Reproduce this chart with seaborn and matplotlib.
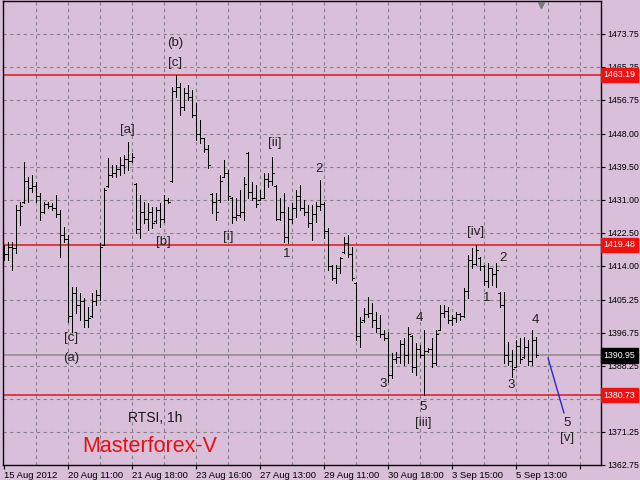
import numpy as np
import pandas as pd
import matplotlib
matplotlib.use("Agg")
import matplotlib.pyplot as plt
import matplotlib.transforms as mtransforms
import seaborn as sns

BG = "#d9bfd9"

# RTSI hourly bars, 15 Aug - 5 Sep 2012
opens = [
    1418.0, 1417.0, 1419.0, 1418.5, 1428.5, 1430.5, 1436.0, 1434.0, 1434.5, 1432.0,
    1428.0, 1430.0, 1429.5, 1429.0, 1427.5, 1422.0, 1421.0, 1401.0, 1407.0, 1404.0,
    1405.0, 1400.0, 1401.0, 1405.0, 1406.5, 1419.5, 1434.5, 1437.5, 1438.0, 1439.0,
    1440.0, 1441.5, 1441.0, 1435.0, 1423.5, 1428.0, 1426.0, 1428.0, 1425.5, 1428.5,
    1426.0, 1431.0, 1436.0, 1459.0, 1460.0, 1455.0, 1458.5, 1457.5, 1453.0, 1448.0,
    1447.0, 1444.0, 1432.5, 1430.5, 1431.0, 1437.0, 1438.0, 1431.5, 1426.5, 1427.0,
    1428.0, 1443.0, 1433.0, 1431.5, 1431.0, 1431.5, 1436.5, 1436.0, 1434.5, 1426.0,
    1428.0, 1421.5, 1426.0, 1429.0, 1432.0, 1429.0, 1428.0, 1425.0, 1427.5, 1429.5,
    1430.0, 1423.0, 1414.0, 1411.0, 1413.5, 1417.5, 1420.0, 1417.0, 1409.5, 1396.0,
    1400.0, 1401.5, 1402.0, 1400.0, 1398.0, 1396.5, 1395.5, 1386.0, 1390.0, 1390.5,
    1394.0, 1391.0, 1396.0, 1388.0, 1392.5, 1391.0, 1392.0, 1392.5, 1389.0, 1397.5,
    1402.0, 1402.5, 1400.0, 1400.5, 1401.5, 1401.0, 1407.5, 1415.5, 1414.5, 1416.0,
    1414.0, 1410.0, 1413.5, 1412.0, 1407.0, 1404.0, 1391.0, 1389.5, 1388.0, 1393.5,
    1390.5, 1393.0, 1389.5, 1395.0,
]
highs = [
    1419.4, 1420.2, 1420.2, 1429.7, 1430.5, 1440.8, 1436.9, 1437.4, 1435.6, 1432.8,
    1430.5, 1430.5, 1430.2, 1432.3, 1428.4, 1424.0, 1422.0, 1408.6, 1408.6, 1407.0,
    1405.7, 1403.4, 1407.0, 1407.8, 1419.9, 1434.1, 1441.8, 1440.0, 1440.0, 1442.1,
    1442.6, 1445.9, 1443.1, 1435.4, 1432.3, 1430.5, 1430.2, 1429.2, 1429.2, 1430.2,
    1432.3, 1431.5, 1460.1, 1463.19, 1461.1, 1459.8, 1460.6, 1459.3, 1456.0, 1451.6,
    1447.0, 1445.2, 1432.8, 1432.8, 1437.4, 1441.3, 1438.7, 1431.8, 1431.5, 1433.6,
    1436.9, 1443.4, 1435.6, 1434.9, 1433.6, 1437.9, 1437.9, 1442.1, 1434.9, 1431.5,
    1432.8, 1429.2, 1430.2, 1433.6, 1434.9, 1431.0, 1429.7, 1429.7, 1430.5, 1436.1,
    1430.5, 1423.8, 1414.2, 1414.2, 1416.3, 1421.5, 1422.0, 1418.9, 1409.9, 1400.9,
    1403.2, 1406.0, 1404.4, 1402.1, 1401.3, 1397.5, 1397.0, 1391.6, 1391.8, 1394.9,
    1395.4, 1398.3, 1396.2, 1394.1, 1393.6, 1397.5, 1392.9, 1395.4, 1397.5, 1403.9,
    1403.9, 1403.4, 1401.3, 1402.1, 1401.9, 1408.3, 1416.8, 1418.6, 1419.48, 1416.3,
    1414.2, 1414.8, 1413.5, 1414.8, 1407.3, 1407.3, 1394.4, 1392.3, 1394.9, 1395.4,
    1395.7, 1394.9, 1397.5, 1395.7,
]
lows = [
    1415.5, 1415.5, 1413.0, 1417.3, 1424.6, 1430.2, 1430.5, 1433.0, 1430.5, 1425.8,
    1427.6, 1428.9, 1428.4, 1426.6, 1416.3, 1420.2, 1399.6, 1397.0, 1401.9, 1400.1,
    1398.3, 1398.3, 1400.9, 1403.9, 1405.2, 1419.4, 1434.3, 1436.9, 1436.9, 1437.4,
    1437.9, 1438.7, 1440.8, 1422.5, 1421.2, 1425.1, 1423.3, 1423.8, 1425.1, 1424.0,
    1425.3, 1430.2, 1435.6, 1457.5, 1452.9, 1454.2, 1456.8, 1452.4, 1446.4, 1445.7,
    1443.4, 1439.2, 1427.6, 1425.8, 1430.5, 1436.9, 1431.0, 1425.1, 1425.8, 1426.6,
    1425.8, 1431.5, 1431.0, 1429.2, 1431.0, 1431.5, 1434.3, 1434.9, 1425.8, 1425.8,
    1420.2, 1419.9, 1425.1, 1426.6, 1428.4, 1427.1, 1424.0, 1420.7, 1425.3, 1428.4,
    1421.2, 1413.0, 1410.4, 1409.6, 1412.2, 1417.3, 1416.3, 1410.4, 1394.9, 1393.1,
    1399.6, 1400.9, 1398.3, 1397.0, 1395.7, 1394.9, 1384.1, 1385.1, 1389.0, 1389.0,
    1388.5, 1389.0, 1386.7, 1385.9, 1390.5, 1380.73, 1391.8, 1388.0, 1388.5, 1397.5,
    1400.9, 1399.3, 1398.8, 1399.6, 1400.1, 1400.9, 1405.7, 1413.5, 1414.2, 1413.0,
    1409.1, 1408.6, 1409.1, 1408.6, 1403.4, 1389.0, 1388.5, 1385.4, 1388.0, 1389.0,
    1390.3, 1388.5, 1388.5, 1390.5,
]
closes = [
    1417.0, 1419.0, 1418.5, 1428.5, 1429.5, 1436.0, 1434.0, 1434.5, 1432.0, 1428.0,
    1430.0, 1429.5, 1429.0, 1427.5, 1422.0, 1421.0, 1401.0, 1407.0, 1404.0, 1405.0,
    1400.0, 1400.5, 1405.0, 1406.5, 1419.0, 1433.5, 1437.5, 1438.0, 1439.0, 1440.0,
    1441.5, 1441.0, 1442.0, 1423.5, 1428.0, 1426.0, 1428.0, 1425.0, 1428.5, 1426.0,
    1431.0, 1430.5, 1459.0, 1460.0, 1455.0, 1458.5, 1457.5, 1453.0, 1448.0, 1447.0,
    1444.0, 1440.0, 1430.5, 1428.0, 1436.0, 1438.0, 1432.0, 1426.5, 1427.0, 1428.0,
    1435.0, 1433.0, 1431.5, 1430.0, 1431.5, 1436.5, 1436.0, 1438.0, 1426.0, 1428.0,
    1421.5, 1426.0, 1429.0, 1432.0, 1429.0, 1428.0, 1425.0, 1427.5, 1429.5, 1430.0,
    1423.0, 1414.0, 1411.0, 1413.5, 1416.0, 1420.0, 1417.0, 1411.0, 1396.0, 1399.5,
    1401.5, 1402.0, 1400.0, 1398.0, 1396.5, 1395.5, 1386.0, 1390.0, 1390.5, 1394.0,
    1391.0, 1396.5, 1388.0, 1392.5, 1391.0, 1392.0, 1392.5, 1389.0, 1396.5, 1402.0,
    1402.5, 1400.0, 1400.5, 1401.5, 1401.0, 1407.5, 1415.5, 1414.5, 1418.0, 1414.0,
    1410.0, 1413.5, 1412.0, 1413.0, 1404.0, 1391.0, 1389.5, 1387.5, 1393.5, 1390.0,
    1393.0, 1389.5, 1395.0, 1390.95,
]

time_labels = ["15 Aug 2012", "20 Aug 11:00", "21 Aug 18:00", "23 Aug 16:00",
               "27 Aug 13:00", "29 Aug 11:00", "30 Aug 18:00", "3 Sep 15:00",
               "5 Sep 13:00"]
price_ticks = [1473.75, 1465.25, 1456.75, 1448.00, 1439.50, 1431.00, 1422.50,
               1414.00, 1405.25, 1396.75, 1388.25, 1379.75, 1371.25, 1362.75]
levels = [1463.19, 1419.48, 1380.73]
bid = 1390.95

# wave 5 projection
proj_bar = [136, 140]
proj_price = [1390.3, 1376.1]

# wave marks: (bar, price, text)
waves = [
    (42.75, 1471.4, "(b)"), (42.75, 1466.3, "[c]"), (30.75, 1449.0, "[a]"),
    (39.75, 1420.2, "[b]"), (16.75, 1395.4, "[c]"), (16.75, 1390.3, "(a)"),
    (56.0, 1421.5, "[i]"), (67.75, 1445.7, "[ii]"), (70.75, 1417.1, "1"),
    (78.75, 1439.0, "2"), (94.75, 1383.6, "3"), (103.75, 1400.6, "4"),
    (104.75, 1377.7, "5"), (104.75, 1373.5, "[iii]"), (118.0, 1422.7, "[iv]"),
    (120.75, 1405.7, "1"), (124.75, 1416.0, "2"), (126.75, 1383.3, "3"),
    (132.75, 1400.1, "4"), (140.75, 1373.5, "5"), (140.75, 1369.7, "[v]"),
]

df = pd.DataFrame({"open": opens, "high": highs, "low": lows, "close": closes})
df["bar"] = np.arange(len(df))

sns.set_style("ticks", {"axes.facecolor": BG, "figure.facecolor": BG,
                        "axes.edgecolor": "black"})
plt.rcParams["font.family"] = ["Liberation Sans", "DejaVu Sans"]

fig = plt.figure(figsize=(6.4, 4.8), dpi=100)
fig.patch.set_facecolor(BG)
ax = fig.add_axes([3 / 640, 15 / 480, 598 / 640, 464 / 480])
ax.set_facecolor(BG)

# grid
for v in price_ticks:
    ax.axhline(v, color="#85808c", lw=0.8, ls=(0, (3, 3)), zorder=0.5)
for g in range(8, 150, 8):
    ax.axvline(g, color="#85808c", lw=0.8, ls=(0, (3, 3)), zorder=0.5)

# levels
for lv in levels:
    ax.axhline(lv, color="#e41515", lw=1.1, zorder=1)
ax.axhline(bid, color="#8c8c8c", lw=1.1, zorder=1)

# bars
ax.vlines(df["bar"], df["low"], df["high"], color="black", lw=0.7,
          antialiased=False, zorder=2)
ax.hlines(df["open"], df["bar"] - 0.4, df["bar"], color="black", lw=0.7,
          antialiased=False, zorder=2)
ax.hlines(df["close"], df["bar"], df["bar"] + 0.4, color="black", lw=0.7,
          antialiased=False, zorder=2)

sns.lineplot(x=proj_bar, y=proj_price, color="#2a2ad0", lw=1.0, ax=ax, zorder=2)

for bx, py, t in waves:
    ax.text(bx, py, t, fontsize=9.5, color="#222222", ha="center", va="center")

ax.text(37.75, 1374.8, "RTSI, 1h", fontsize=10, color="#1a1a1a",
        ha="center", va="center")
ax.text(36.5, 1367.4, "Masterforex-V", fontsize=15.5, color="#e81010",
        ha="center", va="center")

ax.set_xlim(-0.25, 149.25)
ax.set_ylim(1362.73, 1482.25)

ax.yaxis.tick_right()
ax.set_yticks(price_ticks)
ax.set_yticklabels([f"{v:.2f}" for v in price_ticks])
ax.set_xticks(range(0, 150, 16))
ax.set_xticklabels(time_labels + [""])
plt.setp(ax.get_xticklabels(), ha="left")
ax.tick_params(axis="x", labelsize=6.8, length=3, width=0.8, color="black",
               pad=1.5, labelcolor="black")
ax.tick_params(axis="y", labelsize=6.3, length=3, width=0.8, color="black",
               pad=1.5, labelcolor="black")
for s in ax.spines.values():
    s.set_linewidth(1.0)
    s.set_color("black")

# price boxes on the right scale
tr = mtransforms.blended_transform_factory(ax.transAxes, ax.transData)
for lv in levels:
    ax.text(1.004, lv, f"{lv:.2f}", transform=tr, fontsize=6.3, color="white",
            va="center", ha="left", clip_on=False, zorder=6,
            bbox=dict(boxstyle="square,pad=0.3", fc="#ee1111", ec="#ee1111"))
ax.text(1.004, bid, f"{bid:.2f}", transform=tr, fontsize=6.3, color="white",
        va="center", ha="left", clip_on=False, zorder=6,
        bbox=dict(boxstyle="square,pad=0.3", fc="black", ec="black"))

# chart shift marker
ax.plot([134.25], [0.992], marker="v", ms=5, color="#7a7a7a",
        transform=mtransforms.blended_transform_factory(ax.transData, ax.transAxes),
        clip_on=False, zorder=6)

fig.savefig("out.png", dpi=100, facecolor=BG)
